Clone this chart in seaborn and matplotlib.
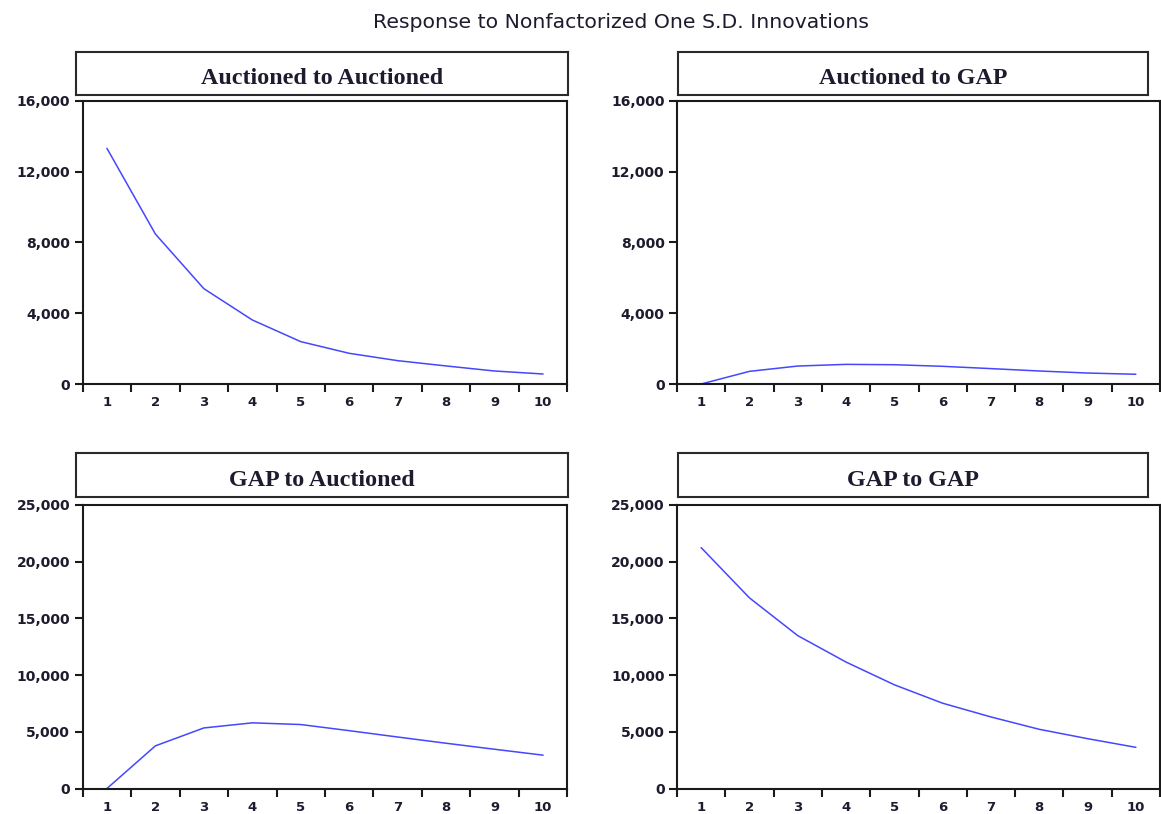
import matplotlib
matplotlib.use("Agg")
import matplotlib.pyplot as plt
import matplotlib.ticker as mticker
import numpy as np
import pandas as pd
import seaborn as sns

# Impulse responses over a 10-period horizon
periods = list(range(1, 11))
auctioned_to_auctioned = [13325, 8480, 5390, 3620, 2395, 1735, 1320, 1020, 735, 565]
auctioned_to_gap = [0, 715, 1015, 1110, 1090, 1000, 870, 735, 620, 550]
gap_to_auctioned = [0, 3760, 5340, 5790, 5640, 5100, 4540, 3990, 3460, 2940]
gap_to_gap = [21240, 16810, 13480, 11150, 9145, 7520, 6310, 5220, 4395, 3630]

panel_titles = ["Auctioned to Auctioned", "Auctioned to GAP",
                "GAP to Auctioned", "GAP to GAP"]
panel_series = [auctioned_to_auctioned, auctioned_to_gap,
                gap_to_auctioned, gap_to_gap]
row_ymax = [16000, 25000]
row_ystep = [4000, 5000]
suptitle = "Response to Nonfactorized One S.D. Innovations"

sns.set_theme(style="white")
plt.rcParams["font.family"] = ["DejaVu Sans"]

W, H = 1161, 814
fig = plt.figure(figsize=(W / 100, H / 100), dpi=100)

def fx(px):
    return px / W

def fy(py):
    return 1 - py / H

# pixel geometry: (axes left, axes right, box left, box right)
cols = [(82.7, 567.3, 76, 568), (677, 1160, 678, 1148)]
# (box top, box bottom, axes top, axes bottom)
rows = [(51.7, 95, 101, 384), (453.3, 497.3, 505, 788.5)]

line_color = "#4646ff"
ink = "#1c1c2e"

for i, (title, values) in enumerate(zip(panel_titles, panel_series)):
    r, c = divmod(i, 2)
    al, ar, bl, br = cols[c]
    bt, bb, at, ab = rows[r]

    # title box above each panel
    tax = fig.add_axes([fx(bl), fy(bb), fx(br - bl), (bb - bt) / H])
    tax.set_xticks([])
    tax.set_yticks([])
    for s in tax.spines.values():
        s.set_linewidth(1.5)
        s.set_color("#2a2a2a")
    tax.text(0.5, 0.38, title, ha="center", va="center",
             fontfamily="Liberation Serif", fontweight="bold",
             fontsize=17.3, color=ink, transform=tax.transAxes)

    ax = fig.add_axes([fx(al), fy(ab), fx(ar - al), (ab - at) / H])
    df = pd.DataFrame({"period": periods, "response": values})
    sns.lineplot(data=df, x="period", y="response", ax=ax,
                 color=line_color, linewidth=1.1)

    ax.set_xlim(0.5, 10.5)
    ax.set_ylim(0, row_ymax[r])
    ax.set_xlabel("")
    ax.set_ylabel("")

    # ticks at period boundaries, labels at period centres
    ax.xaxis.set_major_locator(mticker.FixedLocator(np.arange(0.5, 11.0, 1.0)))
    ax.xaxis.set_major_formatter(mticker.NullFormatter())
    ax.xaxis.set_minor_locator(mticker.FixedLocator(periods))
    ax.xaxis.set_minor_formatter(mticker.FixedFormatter([str(p) for p in periods]))
    ax.tick_params(axis="x", which="major", direction="out", length=6,
                   width=1.5, color="#1a1a1a", bottom=True)
    ax.tick_params(axis="x", which="minor", length=0, pad=9,
                   labelsize=9.5, labelcolor=ink, bottom=True)

    ax.yaxis.set_major_locator(mticker.MultipleLocator(row_ystep[r]))
    ax.yaxis.set_major_formatter(mticker.StrMethodFormatter("{x:,.0f}"))
    ax.tick_params(axis="y", which="major", direction="out", length=6,
                   width=1.5, color="#1a1a1a", left=True, labelsize=10,
                   labelcolor=ink, pad=3)
    for lab in ax.get_xticklabels(minor=True) + ax.get_yticklabels():
        lab.set_fontweight("bold")

    for s in ax.spines.values():
        s.set_linewidth(1.5)
        s.set_color("#1a1a1a")
        s.set_visible(True)

fig.text(fx(621), fy(22), suptitle, ha="center", va="center",
         fontsize=14.7, color=ink)

fig.savefig("out.png", dpi=100, facecolor="white")
